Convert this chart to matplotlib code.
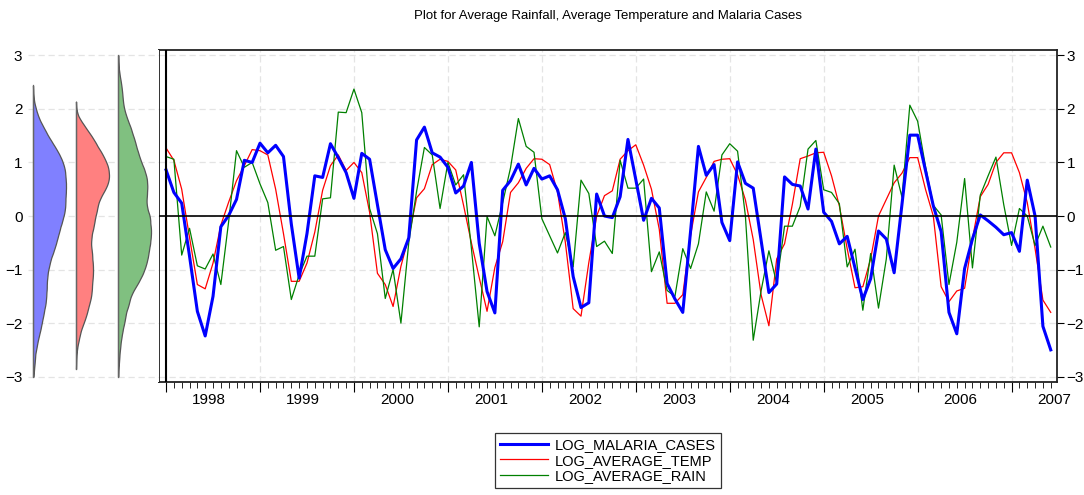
import numpy as np
import matplotlib.pyplot as plt
from matplotlib.transforms import blended_transform_factory

# monthly series, 1998M01 - 2007M06
years = [1998, 1999, 2000, 2001, 2002, 2003, 2004, 2005, 2006, 2007]

malaria = [0.86, 0.44, 0.24, -0.75, -1.78, -2.24, -1.5, -0.2, 0.01, 0.31,
           1.04, 1.0, 1.36, 1.18, 1.32, 1.11, -0.15, -1.16, -0.33, 0.75,
           0.72, 1.35, 1.09, 0.81, 0.33, 1.17, 1.06, 0.21, -0.63, -0.98,
           -0.8, -0.41, 1.42, 1.66, 1.18, 1.1, 0.91, 0.43, 0.56, 1.0,
           -0.51, -1.41, -1.81, 0.48, 0.66, 0.97, 0.58, 0.89, 0.69, 0.75,
           0.49, -0.05, -1.13, -1.71, -1.62, 0.41, 0.0, -0.03, 0.36, 1.43,
           0.68, -0.08, 0.33, 0.15, -1.26, -1.55, -1.8, -0.28, 1.3, 0.76,
           0.96, -0.12, -0.46, 1.01, 0.61, 0.52, -0.45, -1.43, -1.27, 0.73,
           0.59, 0.56, 0.13, 1.25, 0.07, -0.1, -0.52, -0.38, -0.97, -1.56,
           -1.17, -0.28, -0.43, -1.06, 0.22, 1.51, 1.51, 0.85, 0.19, -0.29,
           -1.8, -2.2, -0.98, -0.43, 0.02, -0.09, -0.21, -0.35, -0.31, -0.66,
           0.67, 0.0, -2.06, -2.5]

temp = [1.27, 1.04, 0.5, -0.4, -1.28, -1.36, -0.88, -0.17, 0.26, 0.66,
        0.94, 1.24, 1.22, 1.14, 0.5, -0.33, -1.22, -1.22, -0.88, -0.3,
        0.48, 0.94, 1.14, 0.85, 1.0, 0.81, 0.07, -1.07, -1.28, -1.69,
        -0.94, -0.39, 0.34, 0.51, 0.96, 1.06, 1.02, 0.86, 0.2, -0.5,
        -1.15, -1.78, -0.96, -0.48, 0.44, 0.62, 0.89, 1.07, 1.06, 0.96,
        0.45, -0.49, -1.73, -1.87, -0.87, 0.0, 0.38, 0.47, 1.06, 1.22,
        1.33, 0.95, 0.5, -0.25, -1.63, -1.63, -1.47, -0.36, 0.45, 0.72,
        1.02, 1.06, 1.07, 0.77, 0.3, -0.44, -1.47, -2.05, -0.8, -0.52,
        0.22, 1.07, 1.12, 1.18, 1.19, 0.75, 0.19, -0.61, -1.34, -1.32,
        -0.8, 0.0, 0.31, 0.62, 0.8, 1.09, 1.09, 0.5, 0.0, -1.32,
        -1.6, -1.4, -1.35, -0.43, 0.36, 0.59, 1.0, 1.18, 1.18, 0.81,
        0.25, -0.61, -1.57, -1.8]

rain = [1.11, 1.06, -0.73, -0.23, -0.93, -0.99, -0.71, -1.28, -0.1, 1.22,
        0.91, 1.0, 0.6, 0.25, -0.64, -0.57, -1.56, -1.1, -0.75, -0.75,
        0.32, 0.34, 1.94, 1.93, 2.37, 1.93, 0.14, -0.33, -1.54, -1.0,
        -2.0, -0.5, 0.46, 1.28, 1.14, 0.14, 1.0, 0.58, 0.77, -0.6,
        -2.07, -0.01, -0.37, 0.25, 0.9, 1.82, 1.3, 1.19, -0.05, -0.37,
        -0.69, -0.31, -0.95, 0.67, 0.42, -0.57, -0.47, -0.7, 1.04, 0.52,
        0.52, 0.69, -1.04, -0.67, -1.39, -1.5, -0.61, -0.98, -0.52, 0.45,
        0.09, 1.14, 1.35, 1.21, 0.0, -2.32, -1.4, -0.65, -1.26, -0.19,
        -0.19, 0.18, 1.25, 1.41, 0.49, 0.44, 0.23, -0.95, -0.62, -1.76,
        -0.7, -1.72, -0.8, 0.95, 0.35, 2.07, 1.77, 0.93, 0.2, 0.02,
        -1.28, -0.49, 0.7, -0.97, 0.39, 0.75, 1.1, 0.21, -0.55, 0.14,
        0.0, -0.55, -0.19, -0.58]

names = ["LOG_MALARIA_CASES", "LOG_AVERAGE_TEMP", "LOG_AVERAGE_RAIN"]
line_colors = ["#0000FF", "#FF0000", "#008000"]
fill_colors = ["#8080FF", "#FF8080", "#80C080"]

plt.rcParams['font.family'] = ['Liberation Sans', 'DejaVu Sans']

W, H = 1084, 495
fig = plt.figure(figsize=(W / 100, H / 100), dpi=100)


def box(l, t, r, b):
    return [l / W, 1 - b / H, (r - l) / W, (b - t) / H]


months = np.arange(len(malaria))
grid_kw = dict(color="#e4e4e4", ls=(0, (5, 3)), lw=0.9)

# main line chart
ax = fig.add_axes(box(159, 50, 1057, 382))
for s, c, name, w in zip([malaria, temp, rain], line_colors, names, [2.2, 0.9, 0.9]):
    ax.plot(months, s, color=c, lw=w, label=name, zorder=3 if w > 2 else 2)
ax.set_xlim(-0.9, 113.8)
ax.set_ylim(-3.1, 3.1)
ax.axhline(0, color="black", lw=1.2, zorder=4)
ax.axvline(0, color="black", lw=1.5, zorder=4)
ax.set_yticks(range(-3, 4))
ax.yaxis.tick_right()
ax.tick_params(axis="y", direction="out", length=5, labelsize=11, pad=2)
ax.set_xticks(np.arange(0, len(months), 12))
ax.set_xticks(months, minor=True)
ax.tick_params(axis="x", which="major", length=7, direction="out", labelbottom=False)
ax.tick_params(axis="x", which="minor", length=4, direction="out")
ax.grid(True, which="major", **grid_kw)
ax.set_axisbelow(True)
for sp in ax.spines.values():
    sp.set_linewidth(1.3)
    sp.set_color("#222222")

trans = blended_transform_factory(ax.transData, ax.transAxes)
for k, yr in enumerate(years):
    ax.text(5.5 + 12 * k, -0.033, str(yr), transform=trans, ha="center",
            va="top", fontsize=11)

# kernel densities on the left
dax = fig.add_axes(box(28, 50, 159, 382))
dax.set_xlim(0, 131)
dax.set_ylim(-3.1, 3.1)
bases = [5, 48, 90]
for s, fc, base in zip([malaria, temp, rain], fill_colors, bases):
    v = np.array(s)
    iqr = np.percentile(v, 75) - np.percentile(v, 25)
    h = 0.9 * 2.34 * len(v) ** -0.2 * min(v.std(ddof=1), iqr / 1.34)
    yy = np.linspace(max(v.min() - h, -3), min(v.max() + h, 3), 300)
    u = (yy[:, None] - v[None, :]) / h
    dens = (0.75 * (1 - u ** 2) * (np.abs(u) <= 1)).sum(axis=1) / (len(v) * h)
    xx = base + 33 * dens / dens.max()
    dax.fill_betweenx(yy, base, xx, facecolor=fc, edgecolor="#555555", lw=0.9)
    dax.plot([base, base], [yy[0], yy[-1]], color="#666666", lw=0.9)
dax.set_yticks(range(-3, 4))
dax.set_xticks([])
dax.tick_params(axis="y", length=0, labelsize=11, pad=4)
dax.grid(True, axis="y", **grid_kw)
dax.set_axisbelow(True)
for sp in dax.spines.values():
    sp.set_visible(False)

fig.text(608 / W, 1 - 16 / H,
         "Plot for Average Rainfall, Average Temperature and Malaria Cases",
         ha="center", va="center", fontsize=9.5)

leg = fig.legend(loc="upper center", bbox_to_anchor=(608 / W, 1 - 433 / H),
                 frameon=True, fancybox=False, edgecolor="black", fontsize=10.5,
                 handlelength=3.3, labelspacing=0.1, borderpad=0.35,
                 handletextpad=0.5, borderaxespad=0)
leg.get_frame().set_linewidth(0.9)

fig.savefig("out.png", dpi=100)
